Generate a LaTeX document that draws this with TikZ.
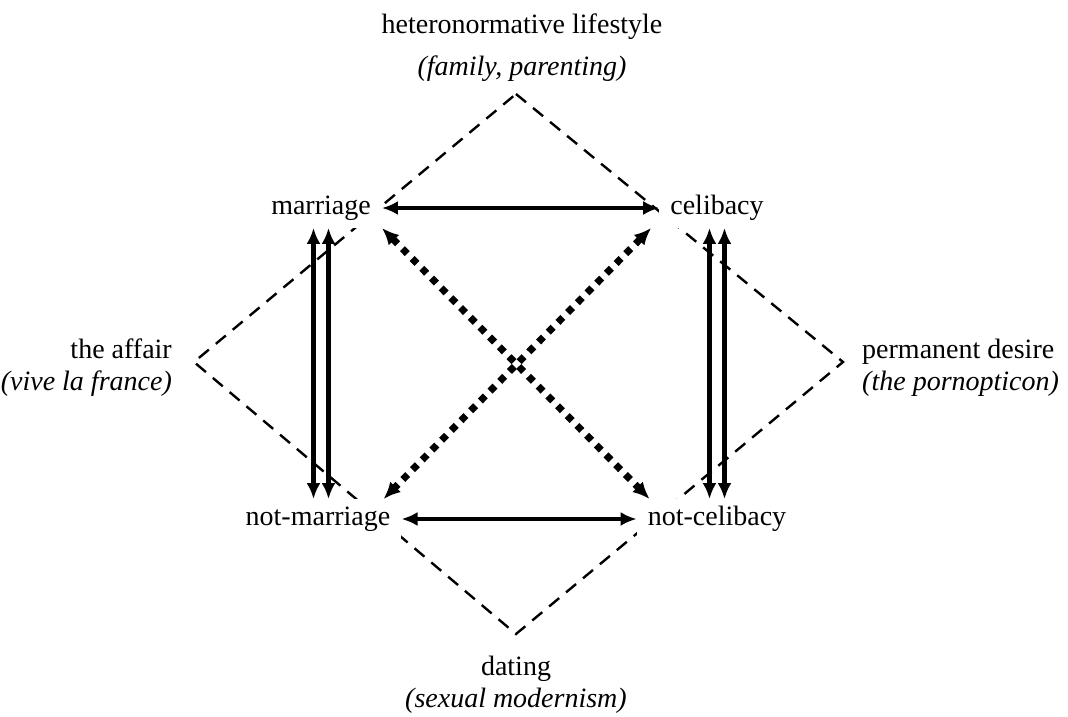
\documentclass[tikz,border=0pt]{standalone}
\usepackage{fontspec}
\setmainfont{Liberation Serif}
\usetikzlibrary{arrows.meta}
\tikzset{
  lbl/.style={font=\fontsize{28}{32}\selectfont, inner sep=0pt},
  core/.style={font=\fontsize{28}{32}\selectfont, fill=white, inner xsep=11pt, inner ysep=7pt, text height=19pt, text depth=6.5pt},
  dashline/.style={line width=2.4pt, dash pattern=on 13pt off 9pt},
  solidarrow/.style={line width=4.6pt, {Latex[length=16pt,width=14pt]}-{Latex[length=16pt,width=14pt]}},
  dotarrow/.style={line width=7pt, dash pattern=on 7pt off 6.8pt, {Latex[length=17pt,width=15pt]}-{Latex[length=17pt,width=15pt]}},
}
\begin{document}
\begin{tikzpicture}[x=1pt,y=-1pt]
\useasboundingbox (0,0) rectangle (1068,717);
% dashed diamond
\coordinate (T) at (516,94);
\coordinate (R) at (843,362);
\coordinate (B) at (516,634);
\coordinate (L) at (194,362);
\draw[dashline] (T) -- (R) -- (B) -- (L) -- cycle;
% outer labels
\node[lbl, align=center, anchor=base] (hetero) at (522,76) {heteronormative lifestyle\\[11pt]\textit{(family, parenting)}};
\node[lbl, align=right, anchor=base east] (affair) at (172,390) {the affair\\\textit{(vive la france)}};
\node[lbl, align=left, anchor=base west] (desire) at (862,390) {permanent desire\\\textit{(the pornopticon)}};
\node[lbl, align=center, anchor=base] (dating) at (516,707) {dating\\\textit{(sexual modernism)}};
% core nodes
\node[core] (marriage) at (321,208) {marriage};
\node[core] (celibacy) at (717,208) {celibacy};
\node[core] (notmarriage) at (318,519) {not-marriage};
\node[core] (notcelibacy) at (717,519) {not-celibacy};
% arrows
\draw[solidarrow] (marriage.east) -- (celibacy.west);
\draw[solidarrow] (notmarriage.east) -- (notcelibacy.west);
\draw[solidarrow] ([xshift=-7.5pt]marriage.south) -- ([xshift=-4.5pt]notmarriage.north);
\draw[solidarrow] ([xshift=7.5pt]marriage.south) -- ([xshift=10.5pt]notmarriage.north);
\draw[solidarrow] ([xshift=-7.5pt]celibacy.south) -- ([xshift=-7.5pt]notcelibacy.north);
\draw[solidarrow] ([xshift=7.5pt]celibacy.south) -- ([xshift=7.5pt]notcelibacy.north);
\draw[dotarrow] (marriage.south east) -- ([xshift=13pt]notcelibacy.north west);
\draw[dotarrow] ([xshift=-8pt]celibacy.south west) -- ([xshift=-18pt]notmarriage.north east);
\end{tikzpicture}
\end{document}
